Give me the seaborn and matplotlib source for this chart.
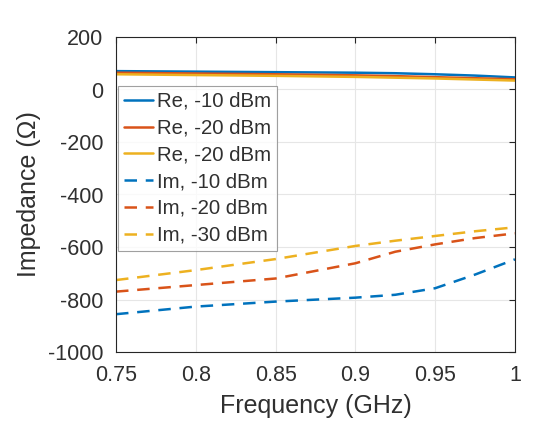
import numpy as np
import pandas as pd
import seaborn as sns
import matplotlib
matplotlib.use("Agg")
import matplotlib.pyplot as plt

freq = [0.75, 0.80, 0.85, 0.90, 0.925, 0.95, 0.975, 1.00]
re_10 = [70, 68, 66, 64, 62, 58, 53, 46]
re_20 = [64, 61, 58, 54, 51, 47, 43, 39]
re_30 = [58, 55, 52, 48, 45, 42, 38, 34]
im_10 = [-856, -827, -808, -793, -782, -757, -705, -647]
im_20 = [-770, -745, -720, -662, -618, -590, -566, -548]
im_30 = [-726, -688, -646, -596, -576, -558, -540, -525]

labels = ["Re, -10 dBm", "Re, -20 dBm", "Re, -20 dBm",
          "Im, -10 dBm", "Im, -20 dBm", "Im, -30 dBm"]
series = [re_10, re_20, re_30, im_10, im_20, im_30]
colors = ["#0072BD", "#D95319", "#EDB120"] * 2
styles = ["-"] * 3 + ["--"] * 3

sns.set_style("white")
plt.rcParams['font.family'] = ['Liberation Sans', 'DejaVu Sans']
plt.rcParams['axes.unicode_minus'] = False

fig = plt.figure(figsize=(5.49, 4.23), dpi=100)
ax = fig.add_axes([116/549, 1 - 352/423, 399/549, 315/423])

for lab, vals, c, ls in zip(labels, series, colors, styles):
    df = pd.DataFrame({"f": freq, "z": vals})
    sns.lineplot(data=df, x="f", y="z", ax=ax, color=c, linestyle=ls,
                 linewidth=1.8, label=lab)
for line in ax.get_lines()[3:]:
    line.set_dashes([5, 3.5])

ax.set_xlim(0.75, 1.0)
ax.set_ylim(-1000, 200)
ax.set_xticks([0.75, 0.8, 0.85, 0.9, 0.95, 1.0])
ax.set_xticklabels(["0.75", "0.8", "0.85", "0.9", "0.95", "1"])
ax.set_yticks(np.arange(-1000, 201, 200))
ax.grid(True, color="#e6e6e6", linewidth=0.8)
ax.tick_params(direction="in", length=4, width=0.8, colors="#262626",
               labelsize=15.5, top=True, right=True, labelcolor="#303030")
ax.tick_params(axis="x", pad=9)
ax.tick_params(axis="y", pad=9)
for sp in ax.spines.values():
    sp.set_color("#262626")
    sp.set_linewidth(0.8)
ax.set_xlabel("Frequency (GHz)", fontsize=18, color="#303030", labelpad=6)
ax.set_ylabel("Impedance (Ω)", fontsize=18, color="#303030", labelpad=5)

leg = ax.legend(loc="upper left", bbox_to_anchor=(0.005, 0.845),
                fontsize=14.7, frameon=True, fancybox=False,
                handlelength=1.4, handletextpad=0.2, labelspacing=0.38,
                borderpad=0.3, borderaxespad=0)
leg.get_frame().set_edgecolor("#888888")
leg.get_frame().set_linewidth(0.8)
for t in leg.get_texts():
    t.set_color("#303030")

fig.savefig("out.png", dpi=100)
